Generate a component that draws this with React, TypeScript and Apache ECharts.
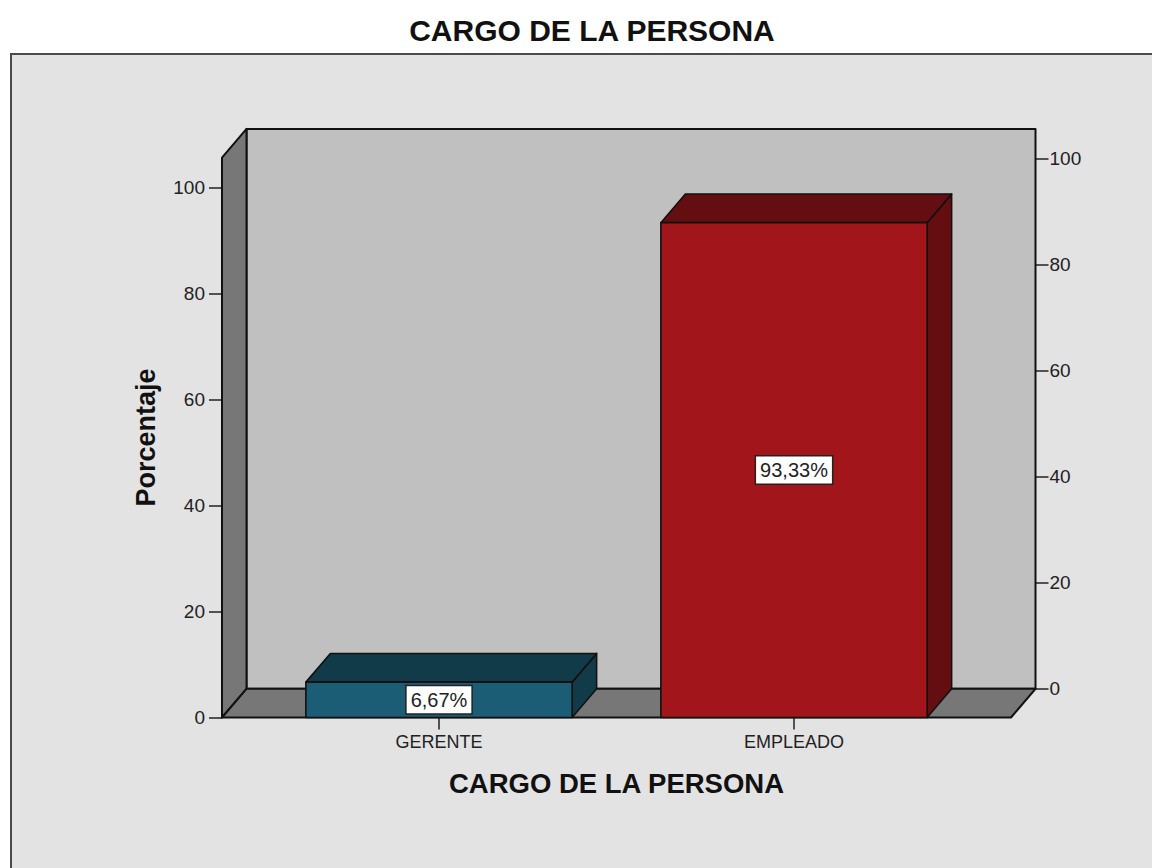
import React, { useEffect, useRef } from "react";
import * as echarts from "echarts";

// ---- data ----
const CATEGORIES: string[] = ["GERENTE", "EMPLEADO"];
const PERCENTAGES: number[] = [6.67, 93.33];
const Y_TICKS: number[] = [0, 20, 40, 60, 80, 100];
const Y_MAX = 105.6;
const TITLE = "CARGO DE LA PERSONA";
const X_NAME = "CARGO DE LA PERSONA";
const Y_NAME = "Porcentaje";
const FRONT_COLORS: string[] = ["#1b5d75", "#a2161b"];
const SHADE_COLORS: string[] = ["#123b4a", "#650e12"];

// ---- layout ----
const FONT = "'Liberation Sans', Arial, Helvetica, sans-serif";
const GRID_LEFT = 261.5;
const GRID_WIDTH = 710;
const GRID_TOP = 157.6;
const GRID_HEIGHT = 559.9;
const DEPTH_X = 24.5;
const DEPTH_Y = 28.7;
const WALL_PAD = 39.5;
const BAR_RATIO = 0.75;

const fmt = (v: number) => v.toFixed(2).replace(".", ",") + "%";

export default function App() {
  const ref = useRef<HTMLDivElement>(null);
  useEffect(() => {
    if (!ref.current) return;
    const chart = echarts.init(ref.current, undefined, { renderer: "svg" });

    const roomRender = (params: any, api: any) => {
      const cs = params.coordSys;
      const L = cs.x - WALL_PAD;
      const R = cs.x + cs.width + WALL_PAD;
      const T = cs.y;
      const B = cs.y + cs.height;
      const stroke = { stroke: "#111", lineWidth: 2, lineJoin: "round" };
      return {
        type: "group",
        children: [
          {
            type: "polygon",
            shape: {
              points: [
                [L + DEPTH_X, T - DEPTH_Y],
                [R + DEPTH_X, T - DEPTH_Y],
                [R + DEPTH_X, B - DEPTH_Y],
                [L + DEPTH_X, B - DEPTH_Y],
              ],
            },
            style: { fill: "#c0c0c0", ...stroke },
          },
          {
            type: "polygon",
            shape: {
              points: [
                [L, T],
                [L + DEPTH_X, T - DEPTH_Y],
                [L + DEPTH_X, B - DEPTH_Y],
                [L, B],
              ],
            },
            style: { fill: "#777777", ...stroke },
          },
          {
            type: "polygon",
            shape: {
              points: [
                [L, B],
                [L + DEPTH_X, B - DEPTH_Y],
                [R + DEPTH_X, B - DEPTH_Y],
                [R, B],
              ],
            },
            style: { fill: "#777777", ...stroke },
          },
        ],
      };
    };

    const barRender = (params: any, api: any) => {
      const idx = api.value(0);
      const val = api.value(1);
      const p0 = api.coord([idx, 0]);
      const p1 = api.coord([idx, val]);
      const band = api.size([1, 0])[0];
      const w = band * BAR_RATIO;
      const x0 = p0[0] - w / 2;
      const x1 = x0 + w;
      const yb = p0[1];
      const yt = p1[1];
      const i = params.dataIndex;
      const edge = { stroke: "#111", lineWidth: 1.6, lineJoin: "round" };
      return {
        type: "group",
        children: [
          {
            type: "polygon",
            shape: {
              points: [
                [x1, yt],
                [x1 + DEPTH_X, yt - DEPTH_Y],
                [x1 + DEPTH_X, yb - DEPTH_Y],
                [x1, yb],
              ],
            },
            style: { fill: SHADE_COLORS[i], ...edge },
          },
          {
            type: "polygon",
            shape: {
              points: [
                [x0, yt],
                [x0 + DEPTH_X, yt - DEPTH_Y],
                [x1 + DEPTH_X, yt - DEPTH_Y],
                [x1, yt],
              ],
            },
            style: { fill: SHADE_COLORS[i], ...edge },
          },
          {
            type: "rect",
            shape: { x: x0, y: yt, width: w, height: yb - yt },
            style: { fill: FRONT_COLORS[i], ...edge },
          },
          {
            type: "text",
            x: (x0 + x1) / 2,
            y: (yt + yb) / 2,
            style: {
              text: fmt(val),
              fontSize: 20,
              fontFamily: FONT,
              fill: "#222",
              align: "center",
              verticalAlign: "middle",
              textAlign: "center",
              textVerticalAlign: "middle",
              backgroundColor: "#ffffff",
              borderColor: "#222",
              borderWidth: 1.5,
              padding: [4, 4, 3, 4],
            },
          },
        ],
      };
    };

    chart.setOption({
      animation: false,
      backgroundColor: "#ffffff",
      title: {
        text: TITLE,
        left: 587,
        textAlign: "center",
        top: 10,
        textStyle: { fontSize: 30, fontWeight: "bold", color: "#111", fontFamily: FONT },
      },
      graphic: {
        elements: [
          {
            type: "rect",
            z: -10,
            shape: { x: 11, y: 54, width: 1200, height: 900 },
            style: { fill: "#e3e3e3", stroke: "#4a4a4a", lineWidth: 2 },
          },
        ],
      },
      grid: [
        { left: GRID_LEFT, top: GRID_TOP, width: GRID_WIDTH, height: GRID_HEIGHT },
        {
          left: GRID_LEFT + DEPTH_X,
          top: GRID_TOP - DEPTH_Y,
          width: GRID_WIDTH,
          height: GRID_HEIGHT,
        },
      ],
      xAxis: [
        {
          gridIndex: 0,
          type: "category",
          data: CATEGORIES,
          axisLine: { show: false },
          axisTick: {
            show: true,
            alignWithLabel: true,
            length: 12,
            lineStyle: { color: "#222", width: 1.5 },
          },
          axisLabel: { fontSize: 18, color: "#222", margin: 15, fontFamily: FONT },
          splitLine: { show: false },
          name: X_NAME,
          nameLocation: "middle",
          nameGap: 52,
          nameTextStyle: { fontSize: 27.5, fontWeight: "bold", color: "#111", fontFamily: FONT },
        },
        { gridIndex: 1, type: "category", data: CATEGORIES, show: false },
      ],
      yAxis: [
        {
          gridIndex: 0,
          type: "value",
          min: 0,
          max: Y_MAX,
          interval: 20,
          position: "left",
          offset: WALL_PAD,
          axisLine: { show: false },
          axisTick: {
            show: true,
            length: 13,
            customValues: Y_TICKS,
            lineStyle: { color: "#222", width: 1.5 },
          },
          axisLabel: {
            fontSize: 19,
            color: "#222",
            margin: 17,
            fontFamily: FONT,
            customValues: Y_TICKS,
          },
          splitLine: { show: false },
          name: Y_NAME,
          nameLocation: "middle",
          nameRotate: 90,
          nameGap: 63,
          nameTextStyle: { fontSize: 27, fontWeight: "bold", color: "#111", fontFamily: FONT },
        },
        {
          gridIndex: 1,
          type: "value",
          min: 0,
          max: Y_MAX,
          interval: 20,
          position: "right",
          offset: WALL_PAD,
          axisLine: { show: false },
          axisTick: {
            show: true,
            length: 13,
            customValues: Y_TICKS,
            lineStyle: { color: "#222", width: 1.5 },
          },
          axisLabel: {
            fontSize: 19,
            color: "#222",
            margin: 14,
            fontFamily: FONT,
            customValues: Y_TICKS,
          },
          splitLine: { show: false },
        },
      ],
      series: [
        {
          type: "custom",
          xAxisIndex: 0,
          yAxisIndex: 0,
          z: 1,
          silent: true,
          clip: false,
          data: [[0, 0]],
          renderItem: roomRender,
        },
        {
          type: "custom",
          xAxisIndex: 0,
          yAxisIndex: 0,
          z: 3,
          silent: true,
          clip: false,
          data: CATEGORIES.map((_, i) => [i, PERCENTAGES[i]]),
          renderItem: barRender,
        },
      ],
    });
    return () => chart.dispose();
  }, []);
  return (
    <div
      ref={ref}
      style={{ position: "absolute", left: 0, top: 0, width: 1152, height: 868 }}
    />
  );
}
